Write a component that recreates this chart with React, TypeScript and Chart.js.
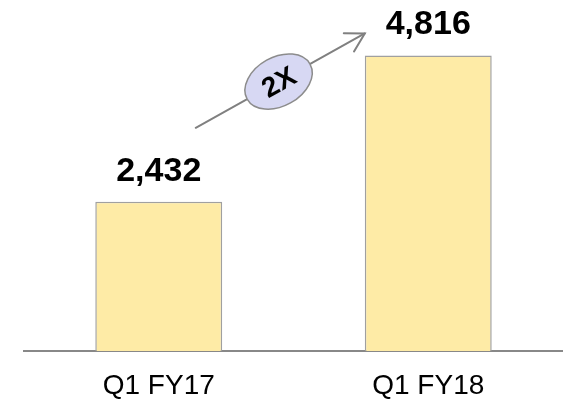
import React, { useEffect, useRef } from "react";
import { Chart, registerables } from "chart.js";

Chart.register(...registerables);

const categories = ["Q1 FY17", "Q1 FY18"];
const values = [2432, 4816];
const badgeText = "2X";

const FONT = "'Liberation Sans', Arial, sans-serif";

const annotationPlugin = {
  id: "annotations",
  afterDatasetsDraw(chart: any) {
    const ctx = chart.ctx;
    const meta = chart.getDatasetMeta(0);
    const bars = meta.data;
    ctx.save();
    // value labels
    ctx.font = `bold 34px ${FONT}`;
    ctx.fillStyle = "#000";
    ctx.textAlign = "center";
    ctx.textBaseline = "alphabetic";
    bars.forEach((bar: any, i: number) => {
      ctx.fillText(values[i].toLocaleString("en-US"), bar.x, bar.y - 21);
    });
    // arrow
    const b0 = bars[0];
    const b1 = bars[1];
    const sx = b0.x + 37;
    const sy = b0.y - 74;
    const ex = b1.x - b1.width / 2;
    const ey = b1.y - 22;
    ctx.strokeStyle = "#808080";
    ctx.lineWidth = 2;
    ctx.lineCap = "round";
    ctx.beginPath();
    ctx.moveTo(sx, sy);
    ctx.lineTo(ex, ey);
    ctx.stroke();
    const ang = Math.atan2(ey - sy, ex - sx);
    const hl = 21;
    const spread = (30 * Math.PI) / 180;
    ctx.beginPath();
    ctx.moveTo(ex - hl * Math.cos(ang - spread), ey - hl * Math.sin(ang - spread));
    ctx.lineTo(ex, ey);
    ctx.lineTo(ex - hl * Math.cos(ang + spread), ey - hl * Math.sin(ang + spread));
    ctx.stroke();
    // badge
    const t = 0.49;
    const cx = sx + (ex - sx) * t;
    const cy = sy + (ey - sy) * t;
    ctx.translate(cx, cy);
    ctx.rotate(ang);
    ctx.beginPath();
    ctx.ellipse(0, 0, 36, 24.5, 0, 0, Math.PI * 2);
    ctx.fillStyle = "#d7d8f3";
    ctx.fill();
    ctx.lineWidth = 1.5;
    ctx.strokeStyle = "#8c8c8c";
    ctx.stroke();
    ctx.fillStyle = "#000";
    ctx.font = `bold 28px ${FONT}`;
    ctx.textAlign = "center";
    ctx.textBaseline = "middle";
    ctx.fillText(badgeText, 0, 2);
    ctx.restore();
  },
};

export default function App() {
  const ref = useRef<HTMLCanvasElement>(null);
  useEffect(() => {
    if (!ref.current) return;
    const chart = new Chart(ref.current, {
      type: "bar",
      data: {
        labels: categories,
        datasets: [
          {
            data: values,
            backgroundColor: "#feeba6",
            borderColor: "#a0a0a0",
            borderWidth: 1.5,
            borderSkipped: "bottom",
            barPercentage: 1,
            categoryPercentage: 0.471,
          },
        ],
      },
      options: {
        responsive: false,
        animation: false,
        layout: { padding: { left: 24, right: 0, top: 0, bottom: 0 } },
        plugins: { legend: { display: false }, tooltip: { enabled: false } },
        scales: {
          x: {
            grid: { display: false, drawTicks: false },
            border: { display: true, color: "#888888", width: 2 },
            ticks: {
              color: "#000",
              font: { family: FONT, size: 28 },
              padding: 18,
            },
            afterFit(scale: any) {
              scale.height = 50;
            },
          },
          y: {
            display: false,
            min: 0,
            max: 5720,
          },
        },
      },
      plugins: [annotationPlugin],
    });
    return () => chart.destroy();
  }, []);
  return (
    <div style={{ position: "fixed", left: 0, top: 0, width: 563, height: 401, background: "#fff" }}>
      <canvas ref={ref} width={563} height={401} />
    </div>
  );
}
